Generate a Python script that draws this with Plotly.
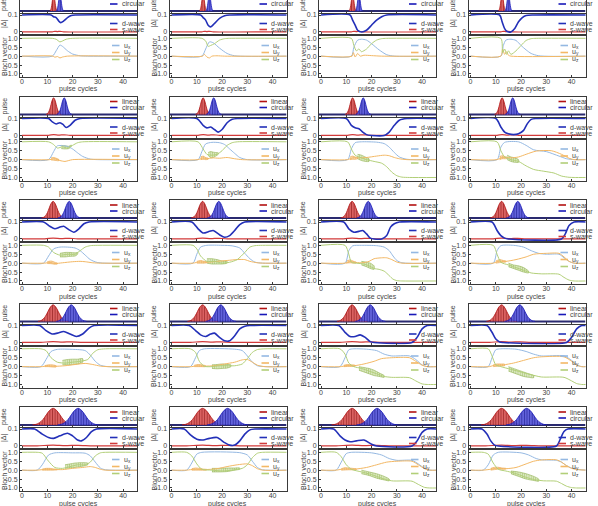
import plotly.graph_objects as go

W, H = 598, 506
COL_X = [0, 149.5, 299, 448.5]
ROW_T = [-7, 96.5, 200, 303.5, 407]
XR = [-0.8, 45.5]

# ---------------- pulse envelopes (per row) ----------------
ENV_Y = [0.01, 0.04, 0.14, 0.32, 0.61, 0.88, 1.0, 0.88, 0.61, 0.32, 0.14, 0.04, 0.01]
LIN_X = [
    [11.0, 11.25, 11.5, 11.75, 12.0, 12.25, 12.5, 12.75, 13.0, 13.25, 13.5, 13.75, 14.0],
    [9.5, 10.0, 10.5, 11.0, 11.5, 12.0, 12.5, 13.0, 13.5, 14.0, 14.5, 15.0, 15.5],
    [7.8, 8.55, 9.3, 10.05, 10.8, 11.55, 12.3, 13.05, 13.8, 14.55, 15.3, 16.05, 16.8],
    [6.3, 7.3, 8.3, 9.3, 10.3, 11.3, 12.3, 13.3, 14.3, 15.3, 16.3, 17.3, 18.3],
    [4.2, 5.55, 6.9, 8.25, 9.6, 10.95, 12.3, 13.65, 15.0, 16.35, 17.7, 19.05, 20.4],
]
CIRC_X = [
    [13.5, 13.75, 14.0, 14.25, 14.5, 14.75, 15.0, 15.25, 15.5, 15.75, 16.0, 16.25, 16.5],
    [13.7, 14.2, 14.7, 15.2, 15.7, 16.2, 16.7, 17.2, 17.7, 18.2, 18.7, 19.2, 19.7],
    [14.2, 14.95, 15.7, 16.45, 17.2, 17.95, 18.7, 19.45, 20.2, 20.95, 21.7, 22.45, 23.2],
    [13.5, 14.5, 15.5, 16.5, 17.5, 18.5, 19.5, 20.5, 21.5, 22.5, 23.5, 24.5, 25.5],
    [14.1, 15.45, 16.8, 18.15, 19.5, 20.85, 22.2, 23.55, 24.9, 26.25, 27.6, 28.95, 30.3],
]

# ---------------- |Delta| and Bloch curves, panel order: row by row ----------------
DWAVE = [
    [[0,.1],[11.5,.1],[12.5,.09],[13.5,.085],[14.5,.065],[15.3,.055],[16.5,.065],[18,.085],[19.5,.097],[21,.1],[46,.1]],
    [[0,.1],[11.5,.1],[12.5,.085],[13.5,.07],[14.5,.04],[15.5,.03],[17,.05],[19,.08],[21,.095],[23,.1],[46,.1]],
    [[0,.1],[11.5,.1],[12.5,.07],[13.5,.04],[14.5,.01],[16,0],[18,.01],[20,.04],[22,.07],[24,.09],[26,.1],[46,.1]],
    [[0,.1],[11.5,.1],[12.5,.06],[13.5,.02],[14.5,.003],[16,0],[17.5,.02],[19,.06],[20.5,.085],[22,.097],[25,.1],[46,.1]],
    [[0,.1],[10.5,.1],[12,.08],[13.5,.068],[15,.075],[16.2,.065],[17.5,.047],[19,.06],[21,.09],[23,.1],[46,.1]],
    [[0,.1],[10,.1],[12.5,.06],[14,.045],[15.5,.05],[17,.035],[18.5,.02],[20,.035],[22,.075],[24,.095],[26,.1],[46,.1]],
    [[0,.1],[10,.1],[12,.06],[13.5,.045],[15,.04],[16.5,.02],[18,.005],[20,0],[25,0],[27,.02],[29,.06],[31,.09],[34,.1],[46,.1]],
    [[0,.1],[10,.1],[12,.05],[13.5,.02],[15,.01],[17,.005],[19,.01],[21,.03],[22.5,.07],[24,.095],[26,.1],[46,.1]],
    [[0,.1],[8.5,.1],[11,.075],[13,.06],[15,.07],[16.5,.075],[18.5,.055],[20.5,.04],[22.5,.06],[24.5,.09],[26.5,.1],[46,.1]],
    [[0,.1],[8,.1],[10.5,.06],[12.5,.035],[15,.045],[16.5,.05],[19,.025],[21,.01],[23,.02],[25,.05],[27,.085],[29,.1],[46,.1]],
    [[0,.1],[9,.1],[11,.06],[13,.04],[15,.045],[16.5,.05],[18,.03],[19.5,.005],[21,0],[24,0],[26,.02],[27.5,.07],[29,.09],[31,.1],[46,.1]],
    [[0,.1],[8.5,.1],[10.5,.05],[12,.02],[13.5,.005],[15,0],[36,0],[37.5,.03],[39,.08],[41,.1],[46,.1]],
    [[0,.1],[7,.1],[9.5,.07],[12,.05],[14,.055],[16.5,.065],[19,.05],[21.5,.035],[24,.05],[26.5,.085],[28.5,.1],[46,.1]],
    [[0,.1],[7,.1],[9.5,.07],[11.5,.045],[13.5,.035],[15.5,.05],[17,.055],[19,.03],[21,.01],[23,.01],[25,.04],[27,.08],[29,.095],[31,.1],[46,.1]],
    [[0,.1],[7,.1],[9.5,.06],[11.5,.035],[13.5,.035],[15.5,.045],[17.5,.03],[19.5,.005],[21,0],[36,0],[38,.03],[40,.08],[42,.1],[46,.1]],
    [[0,.1],[6.5,.1],[8.5,.06],[10,.02],[11.5,.003],[13,0],[38,0],[40,.03],[42,.08],[44,.1],[46,.1]],
    [[0,.1],[5,.1],[8,.07],[10.5,.05],[12.5,.045],[15,.06],[18,.075],[20,.06],[22,.035],[23.5,.03],[25.5,.05],[27.5,.085],[29.5,.1],[46,.1]],
    [[0,.1],[5,.1],[7.5,.065],[10,.04],[12.5,.035],[15,.045],[18,.05],[21,.02],[23,.005],[25,.005],[27,.03],[29,.07],[31,.095],[33,.1],[46,.1]],
    [[0,.1],[5,.1],[7.5,.06],[9.5,.035],[11.5,.025],[14,.03],[17,.035],[20,.01],[22,0],[36,0],[38,.03],[40,.08],[42,.1],[46,.1]],
    [[0,.1],[4.5,.1],[6.5,.07],[8,.03],[9.5,.005],[11,0],[34,0],[35.5,.04],[37,.085],[38.5,.1],[46,.1]],
]
SWAVE_ROW = [
    [[0,.001],[12,.001],[13,.004],[14,.002],[15,.004],[16.5,.001],[46,.001]],
    [[0,.001],[10.5,.001],[12.5,.005],[14.5,.002],[16.7,.004],[19,.001],[46,.001]],
    [[0,.001],[9,.001],[12.3,.005],[15.5,.002],[18.7,.004],[22,.001],[46,.001]],
    [[0,.001],[7.5,.001],[12.3,.005],[16,.002],[19.5,.004],[24,.001],[46,.001]],
    [[0,.001],[6,.001],[12.3,.005],[17,.002],[22.2,.004],[28,.001],[46,.001]],
]
UX = [
    [[0,0],[12,0],[13.5,.3],[15,.62],[16,.55],[18,.3],[20,.12],[23,.02],[26,0],[46,0]],
    [[0,0],[12,0],[13.5,.4],[15,.8],[16.5,.75],[19,.45],[22,.15],[25,.02],[46,0]],
    [[0,0],[12,0],[13,.5],[14.5,.9],[16,.95],[18,.9],[20,.7],[23,.35],[26,.08],[29,0],[46,0]],
    [[0,0],[12,0],[13,.6],[14,.9],[16,.95],[18,.88],[20,.6],[22,.35],[24,.15],[27,.02],[46,0]],
    [[0,0],[10.5,0],[12.5,.45],[14,.78],[16,.78],[18,.74],[20,.6],[22,.38],[24,.18],[27,.03],[30,0],[46,0]],
    [[0,0],[10.5,0],[12,.45],[13.5,.88],[16,.97],[19,.95],[21,.85],[23,.6],[25,.35],[27,.12],[30,0],[46,0]],
    [[0,0],[10.5,0],[12,.6],[13.5,.95],[16,1],[22,.98],[25,.9],[27,.7],[29,.4],[31,.15],[34,.02],[46,0]],
    [[0,0],[10.5,0],[12,.7],[13.5,.97],[19,1],[22,.8],[25,.55],[30,.45],[35,.2],[38,.05],[41,0],[46,0]],
    [[0,0],[8.5,0],[10.5,.4],[12.5,.8],[15,.9],[18,.9],[21,.85],[23,.7],[25,.45],[27,.2],[30,.03],[46,0]],
    [[0,0],[8.5,0],[10,.5],[11.5,.9],[14,1],[20,1],[24,.97],[27,.85],[29,.55],[31,.25],[33,.06],[36,0],[46,0]],
    [[0,0],[9.5,0],[11,.7],[12.5,.97],[16,1],[22,.98],[25,.9],[27,.7],[28.5,.4],[30,.15],[32,.02],[46,0]],
    [[0,0],[9,0],[10.5,.7],[12,.98],[17,1],[21,.9],[24,.7],[27,.55],[30,.5],[35,.5],[37,.3],[39,.1],[41,0],[46,0]],
    [[0,0],[7.5,0],[9.5,.4],[11.5,.85],[14,.97],[20,.97],[25,.9],[27,.65],[29,.3],[31,.08],[34,0],[46,0]],
    [[0,0],[7.5,0],[9.5,.5],[11,.9],[13,1],[25,.98],[28,.9],[30,.6],[32,.25],[34,.05],[37,0],[46,0]],
    [[0,0],[7.5,0],[9.5,.5],[11,.95],[13,1],[18,.98],[22,.9],[25,.7],[28,.6],[35,.6],[37.5,.4],[40,.1],[42,0],[46,0]],
    [[0,0],[7,0],[8.5,.5],[10,.95],[12,1],[18,.98],[22,.85],[25,.7],[28,.6],[37,.6],[40,.35],[42,.1],[44,0],[46,0]],
    [[0,0],[6,0],[8,.3],[10.5,.85],[13,.97],[20,.97],[25,.95],[27,.8],[29,.45],[31,.12],[33,.02],[46,0]],
    [[0,0],[6,0],[8,.4],[10,.9],[12,1],[27,.98],[30,.85],[32,.5],[34,.15],[36,.02],[46,0]],
    [[0,0],[6,0],[8,.45],[10,.93],[12,1],[20,.97],[24,.85],[27,.65],[30,.55],[36,.55],[38.5,.35],[41,.1],[43,0],[46,0]],
    [[0,0],[5,0],[7,.3],[9,.85],[11,1],[20,.97],[23,.85],[26,.65],[28,.58],[34,.55],[36,.45],[38,.25],[40,.12],[43,.03],[46,0]],
]
UY = [
    [[0,0],[12.3,0],[13,-.06],[14,-.02],[15,-.1],[16,-.05],[18,0],[46,0]],
    [[0,0],[12.3,0],[13,.1],[14,-.05],[15,-.1],[16,0],[18,.02],[21,0],[46,0]],
    [[0,0],[12.3,0],[12.8,.2],[13.5,-.05],[14.5,.15],[15.5,0],[17,.05],[20,.03],[24,0],[46,0]],
    [[0,0],[12,0],[12.7,.4],[13.5,.1],[14.3,.25],[15,.05],[16,0],[46,0]],
    [[0,0],[11,0],[12.5,.05],[13.5,.03],[15,-.05],[17,-.1],[18.5,-.05],[20,0],[46,0]],
    [[0,0],[10.5,0],[12.5,.1],[14,.05],[16,.1],[19,.08],[22,.12],[25,.05],[28,0],[46,0]],
    [[0,0],[10.5,0],[12.5,.1],[15,.1],[18,.12],[22,.2],[25,.25],[27,.22],[29,.12],[31,.05],[34,0],[46,0]],
    [[0,0],[10.5,0],[12.5,.12],[16,.1],[19,.15],[22,.3],[26,.48],[32,.5],[36,.3],[39,.08],[41,0],[46,0]],
    [[0,0],[9,0],[11,.04],[13,-.02],[16,.02],[20,.08],[23,.1],[25,.08],[28,.02],[31,0],[46,0]],
    [[0,0],[8.5,0],[11,.07],[14,.05],[18,.1],[22,.15],[26,.2],[29,.2],[31,.1],[34,.02],[36,0],[46,0]],
    [[0,0],[9.5,0],[11.5,.09],[13,.05],[16,.02],[19,.1],[21,.25],[24,.3],[26,.3],[28,.2],[30,.06],[32,0],[46,0]],
    [[0,0],[9,0],[11,.1],[14,.1],[18,.2],[22,.35],[25,.5],[30,.55],[35,.55],[37,.35],[39,.1],[41,0],[46,0]],
    [[0,0],[8,0],[10,.04],[13,.02],[17,.05],[21,.12],[25,.18],[28,.12],[31,.03],[34,0],[46,0]],
    [[0,0],[8,0],[10,.05],[13,.03],[17,.05],[21,.15],[25,.25],[28,.38],[30,.4],[32,.25],[34,.08],[37,0],[46,0]],
    [[0,0],[8,0],[10,.06],[13,.05],[17,.15],[21,.3],[24,.45],[28,.5],[35,.5],[37.5,.3],[40,.08],[42,0],[46,0]],
    [[0,0],[7.5,0],[9.5,.08],[13,.1],[17,.2],[21,.35],[25,.5],[28,.55],[37,.55],[40,.3],[42,.08],[44,0],[46,0]],
    [[0,0],[6,0],[9,.04],[12,.04],[16,.03],[20,.1],[24,.15],[27,.2],[29,.15],[31,.05],[33,0],[46,0]],
    [[0,0],[6,0],[9,.05],[13,.03],[18,.08],[22,.2],[26,.3],[30,.35],[32,.25],[34,.08],[36,0],[46,0]],
    [[0,0],[6,0],[9,.07],[13,.05],[18,.15],[22,.3],[26,.45],[30,.5],[36,.5],[38.5,.3],[41,.08],[43,0],[46,0]],
    [[0,0],[5,0],[8,.05],[10,.1],[14,.08],[18,.15],[22,.35],[25,.5],[28,.57],[34,.58],[36,.45],[38,.25],[40,.1],[43,.02],[46,0]],
]
UZ = [
    [[0,1],[12,1],[13.5,.95],[15,.8],[16,.85],[17.5,.95],[20,1],[46,1]],
    [[0,1],[12,1],[13.5,.85],[14.5,.55],[15.5,.6],[17,.7],[19,.9],[21,.98],[23,1],[46,1]],
    [[0,1],[12,1],[13,.6],[14,.3],[15,.4],[16,.25],[18,.4],[20,.7],[22,.9],[24,.98],[26,1],[46,1]],
    [[0,1],[12,1],[12.7,.2],[13.5,.4],[14.3,.1],[15,.3],[16,.1],[18,.3],[20,.6],[22,.88],[24,.98],[26,1],[46,1]],
    [[0,1],[10.5,1],[12.5,.85],[14,.65],[16,.72],[18,.65],[20,.8],[22,.95],[24,1],[46,1]],
    [[0,1],[10.5,1],[12.5,.6],[14,.3],[16,.25],[18,.3],[20,.5],[22,.8],[24,.95],[26,1],[46,1]],
    [[0,1],[10.5,1],[12,.6],[13.5,.25],[16,.1],[18,0],[21,-.1],[24,-.2],[26,-.4],[28,-.7],[30,-.9],[32,-.98],[35,-1],[46,-1]],
    [[0,1],[10.5,1],[12,.5],[13.5,.15],[16,0],[19,-.1],[22,-.35],[25,-.55],[29,-.65],[33,-.75],[36,-.92],[39,-.99],[41,-1],[46,-1]],
    [[0,1],[8.5,1],[10.5,.9],[12.5,.6],[15,.45],[18,.5],[21,.5],[23,.7],[25,.9],[27,.98],[30,1],[46,1]],
    [[0,1],[8.5,1],[10,.8],[11.5,.4],[14,.1],[17,.1],[20,0],[23,.05],[26,.2],[29,.6],[31,.9],[33,.98],[36,1],[46,1]],
    [[0,1],[9.5,1],[11,.5],[12,.05],[14,0],[17,-.05],[19,-.15],[21,-.3],[23,-.35],[25,-.45],[27,-.7],[28.5,-.9],[30,-.98],[32,-1],[46,-1]],
    [[0,1],[9,1],[10.5,.5],[12,.05],[15,-.1],[18,-.25],[21,-.4],[24,-.55],[28,-.6],[35,-.62],[37,-.8],[39,-.95],[41,-1],[46,-1]],
    [[0,1],[7.5,1],[9.5,.9],[11.5,.5],[14,.25],[17,.2],[20,.25],[23,.3],[26,.4],[28,.75],[30,.95],[33,1],[46,1]],
    [[0,1],[7.5,1],[9.5,.8],[11,.3],[13,.02],[16,0],[19,.05],[22,.05],[25,.05],[28,.15],[30,.45],[32,.8],[34,.96],[37,1],[46,1]],
    [[0,1],[7.5,1],[9.5,.7],[11,.2],[13,0],[16,-.1],[19,-.25],[22,-.4],[25,-.55],[28,-.6],[35,-.62],[37.5,-.8],[40,-.97],[42,-1],[46,-1]],
    [[0,1],[7,1],[8.5,.6],[10,.1],[12,0],[16,-.15],[20,-.3],[24,-.45],[28,-.58],[37,-.6],[40,-.8],[42,-.95],[44,-1],[46,-1]],
    [[0,1],[6,1],[8,.95],[10.5,.5],[13,.15],[16,.1],[19,.2],[22,.3],[25,.3],[27,.45],[29,.8],[31,.97],[33,1],[46,1]],
    [[0,1],[6,1],[8,.8],[10,.35],[12,.05],[16,0],[20,-.05],[24,0],[28,.1],[30,.3],[32,.7],[34,.95],[36,1],[46,1]],
    [[0,1],[6,1],[8,.75],[10,.3],[12,.05],[16,-.1],[20,-.25],[24,-.45],[28,-.6],[36,-.62],[38.5,-.8],[41,-.97],[43,-1],[46,-1]],
    [[0,1],[5,1],[7,.9],[9,.4],[11,.05],[14,-.05],[17,-.15],[20,-.3],[23,-.45],[26,-.55],[29,-.6],[34,-.62],[36,-.75],[38,-.9],[40,-.98],[42,-1],[46,-1]],
]
# fast-oscillation bands: [x, lower, upper]
UZ_BAND = [
    [], [], [], [],
    [[15.5,.62,.8],[17,.6,.78],[18.5,.62,.75],[19.5,.75,.82]],
    [[14.5,.25,.4],[15.5,.1,.45],[16.5,.12,.42],[17.5,.2,.4],[18.5,.3,.38]],
    [[14.5,.05,.3],[16,-.05,.25],[17.5,-.1,.15],[19,-.1,.05]],
    [[14.5,0,.25],[16,-.1,.15],[17.5,-.15,.1],[19,-.15,0]],
    [[15,.35,.55],[17,.35,.6],[19,.38,.6],[21,.4,.58],[22,.5,.6]],
    [[14,0,.25],[16,-.05,.25],[18,-.05,.2],[20,-.05,.12],[22,0,.1]],
    [[16,-.1,.1],[18,-.2,.05],[19.5,-.3,0],[21,-.35,-.15]],
    [[15,-.2,0],[17,-.3,-.1],[19,-.4,-.15],[21,-.5,-.25],[23,-.55,-.45]],
    [[16,.1,.35],[18,.1,.4],[20,.12,.42],[22,.15,.42],[24,.25,.45]],
    [[16,-.1,.1],[18,-.12,.12],[20,-.1,.15],[22,-.08,.12],[23.5,0,.1]],
    [[15,-.2,0],[17,-.3,-.05],[19,-.4,-.1],[21,-.5,-.2],[23,-.55,-.35],[25,-.6,-.5]],
    [[15,-.25,0],[17,-.35,-.1],[19,-.45,-.2],[21,-.55,-.3],[23,-.6,-.4],[25,-.62,-.5]],
    [[17,.1,.3],[19,.12,.35],[21,.15,.4],[23,.2,.42],[25,.25,.42],[26,.3,.4]],
    [[16,-.1,.1],[19,-.1,.1],[22,-.08,.12],[25,0,.12],[27,.05,.12]],
    [[16,-.2,0],[19,-.3,-.1],[22,-.45,-.2],[25,-.55,-.35],[27,-.6,-.5]],
    [[16,-.2,-.05],[19,-.35,-.1],[22,-.5,-.2],[25,-.58,-.35],[27,-.62,-.5]],
]
UY_BAND = [
    [], [], [], [],
    [[11.5,-.02,.1],[12.5,-.03,.12],[13.5,-.05,.08],[14.5,-.06,.02]],
    [[11.5,0,.15],[12.5,.02,.2],[13.5,0,.12],[14.5,.02,.08]],
    [[11.5,0,.15],[12.5,.02,.2],[13.5,.02,.15],[14.5,.05,.12]],
    [[11.5,0,.18],[12.5,.05,.22],[13.5,.05,.18],[14.5,.06,.14]],
    [[10,-.02,.08],[11.5,-.03,.12],[13,-.06,.05],[14,-.05,0]],
    [[10,0,.1],[11.5,0,.15],[13,0,.1],[14,.02,.07]],
    [[10,0,.12],[11.5,.02,.18],[13,0,.1],[14,.01,.05]],
    [[10,0,.12],[11.5,.03,.2],[13,.05,.15],[14,.06,.12]],
    [[9,0,.06],[10.5,0,.1],[12,-.02,.1],[13.5,-.02,.05]],
    [[9,0,.08],[10.5,0,.12],[12,0,.1],[13.5,0,.05]],
    [[9,0,.08],[10.5,.01,.12],[12,.01,.1],[13.5,.02,.08]],
    [[9,0,.1],[10.5,.02,.15],[12,.04,.15],[13.5,.05,.14]],
    [[8,0,.06],[9.5,0,.1],[11,0,.1],[12.5,0,.07],[14,.02,.05]],
    [[8,0,.08],[9.5,0,.12],[11,0,.1],[12.5,0,.06],[14,.01,.04]],
    [[8,0,.08],[9.5,.01,.14],[11,.02,.12],[12.5,.02,.1],[14,.03,.07]],
    [[8,0,.1],[9.5,.03,.16],[11,.05,.16],[12.5,.05,.12],[14,.06,.1]],
]

X_TICKS = [0, 10, 20, 30, 40]
BLOCH_TICKS = [-1, -0.5, 0, 0.5, 1]
BLOCH_TICKTEXT = ["-1.0", "-0.5", "0.0", "0.5", "1.0"]
DELTA_TICKS = [0, 0.1]
DELTA_TICKTEXT = ["0", "0.1"]

C_LIN, C_CIRC = "#b31212", "#1818b8"
C_D, C_S = "#2330b8", "#d23a3a"
C_UX, C_UY, C_UZ = "#94b8e2", "#f3b865", "#b2cf78"
FRAME = "#3a3a3a"
FONT = "Liberation Sans, Arial, sans-serif"
TXT = "#444444"


def xp(px):
    return px / W


def yp(py):
    return 1 - py / H


def unzip(pairs):
    return [p[0] for p in pairs], [p[1] for p in pairs]


fig = go.Figure()
layout = {}
shapes = []
annots = []
n = 0


def add_axes(x0, top, bot, yr, kind):
    global n
    n += 1
    lo, hi = yr
    if top < 0:
        hi = lo + (hi - lo) * bot / (bot - top)
        top = 0
    xk = "xaxis" if n == 1 else f"xaxis{n}"
    yk = "yaxis" if n == 1 else f"yaxis{n}"
    xa = "x" if n == 1 else f"x{n}"
    ya = "y" if n == 1 else f"y{n}"
    layout[xk] = dict(domain=[xp(x0 + 20), xp(x0 + 137)], range=XR, anchor=ya,
                      showgrid=False, zeroline=False, showline=True, mirror=True,
                      linecolor=FRAME, linewidth=1, ticks="inside", ticklen=2,
                      tickcolor=FRAME, tickvals=X_TICKS,
                      showticklabels=(kind == "bloch"), ticklabelstandoff=-2,
                      tickfont=dict(size=7, color=TXT, family=FONT), automargin=False)
    ya_d = dict(domain=[yp(bot), yp(top)], range=[lo, hi], anchor=xa,
                showgrid=False, zeroline=False, showline=True, mirror=True,
                linecolor=FRAME, linewidth=1, ticks="inside", ticklen=2,
                tickcolor=FRAME, tickfont=dict(size=7, color=TXT, family=FONT),
                automargin=False)
    if kind == "pulse":
        ya_d.update(tickvals=[], showticklabels=False)
    elif kind == "delta":
        ya_d.update(tickvals=DELTA_TICKS, ticktext=DELTA_TICKTEXT)
    else:
        ya_d.update(tickvals=BLOCH_TICKS, ticktext=BLOCH_TICKTEXT)
    layout[yk] = ya_d
    return xa, ya


def legend_item(x0, y, color, text, lx0=110, lx1=117.5, tx=119.5):
    if y < 1:
        return
    shapes.append(dict(type="line", xref="paper", yref="paper",
                       x0=xp(x0 + lx0), x1=xp(x0 + lx1), y0=yp(y), y1=yp(y),
                       line=dict(color=color, width=1.6)))
    annots.append(dict(x=xp(x0 + tx), y=yp(y), xref="paper", yref="paper",
                       text=text, showarrow=False, xanchor="left", yanchor="middle",
                       font=dict(size=7, color=TXT, family=FONT)))


def label(x, y, text, angle=0):
    annots.append(dict(x=xp(x), y=yp(y), xref="paper", yref="paper", text=text,
                       showarrow=False, xanchor="center", yanchor="middle",
                       textangle=angle, font=dict(size=7, color=TXT, family=FONT)))


def band(trip, xa, ya, fill, fg):
    if not trip:
        return
    bx = [t[0] for t in trip] + [t[0] for t in reversed(trip)]
    by = [t[2] for t in trip] + [t[1] for t in reversed(trip)]
    fig.add_trace(go.Scatter(x=bx, y=by, mode="lines", xaxis=xa, yaxis=ya,
                             line=dict(color=fg, width=0.6, shape="spline", smoothing=0.6),
                             fill="toself", fillcolor=fill,
                             fillpattern=dict(shape="|", size=2.2, solidity=0.45,
                                              fgcolor=fg, bgcolor=fill),
                             hoverinfo="skip"))


for r in range(5):
    for c in range(4):
        p = r * 4 + c
        X0 = COL_X[c]
        T = ROW_T[r]

        # pulse panel
        xa, ya = add_axes(X0, T, T + 20, [-0.12, 1.08], "pulse")
        fig.add_trace(go.Scatter(x=XR, y=[0, 0], mode="lines", xaxis=xa, yaxis=ya,
                                 line=dict(color="#2a2a70", width=1.8), hoverinfo="skip"))
        fig.add_trace(go.Scatter(x=LIN_X[r], y=ENV_Y, mode="lines", xaxis=xa, yaxis=ya,
                                 line=dict(color=C_LIN, width=0.8, shape="spline"),
                                 fill="tozeroy", fillcolor="rgba(214,70,70,0.9)",
                                 fillpattern=dict(shape="|", size=2.6, solidity=0.45,
                                                  fgcolor="#6e0000", bgcolor="rgba(225,90,90,0.9)"),
                                 hoverinfo="skip"))
        fig.add_trace(go.Scatter(x=CIRC_X[r], y=ENV_Y, mode="lines", xaxis=xa, yaxis=ya,
                                 line=dict(color=C_CIRC, width=0.8, shape="spline"),
                                 fill="tozeroy", fillcolor="rgba(70,70,214,0.9)",
                                 fillpattern=dict(shape="|", size=2.6, solidity=0.45,
                                                  fgcolor="#00006e", bgcolor="rgba(90,90,225,0.9)"),
                                 hoverinfo="skip"))

        # delta panel
        xa, ya = add_axes(X0, T + 21, T + 41, [-0.012, 0.106], "delta")
        sx, sy = unzip(SWAVE_ROW[r])
        fig.add_trace(go.Scatter(x=sx, y=sy, mode="lines", xaxis=xa, yaxis=ya,
                                 line=dict(color=C_S, width=1.2, shape="spline", smoothing=0.6),
                                 hoverinfo="skip"))
        dx, dy = unzip(DWAVE[p])
        fig.add_trace(go.Scatter(x=dx, y=dy, mode="lines", xaxis=xa, yaxis=ya,
                                 line=dict(color=C_D, width=1.6, shape="spline", smoothing=0.7),
                                 hoverinfo="skip"))

        # bloch panel
        xa, ya = add_axes(X0, T + 43, T + 84, [-1.17, 1.13], "bloch")
        band(UY_BAND[p], xa, ya, "rgba(243,184,101,0.35)", "#e8a040")
        band(UZ_BAND[p], xa, ya, "rgba(178,207,120,0.4)", "#8fb04e")
        for data, col in ((UX, C_UX), (UY, C_UY), (UZ, C_UZ)):
            bx, by = unzip(data[p])
            fig.add_trace(go.Scatter(x=bx, y=by, mode="lines", xaxis=xa, yaxis=ya,
                                     line=dict(color=col, width=1.0, shape="spline", smoothing=0.7),
                                     hoverinfo="skip"))

        # labels
        label(X0 + 4, T + 10, "pulse", -90)
        label(X0 + 4, T + 31, "|Δ|", -90)
        label(X0 + 4, T + 64, "Bloch vector", -90)
        label(X0 + 78, T + 96.5, "pulse cycles")

        # legends
        legend_item(X0, T + 5, C_LIN, "linear")
        legend_item(X0, T + 11, C_CIRC, "circular")
        legend_item(X0, T + 30.5, C_D, "d-wave")
        legend_item(X0, T + 36.5, C_S, "s-wave")
        legend_item(X0, T + 52.5, C_UX, "u<sub>x</sub>", 112, 119.5, 121.5)
        legend_item(X0, T + 59.5, C_UY, "u<sub>y</sub>", 112, 119.5, 121.5)
        legend_item(X0, T + 66.5, C_UZ, "u<sub>z</sub>", 112, 119.5, 121.5)

fig.update_layout(width=W, height=H, margin=dict(l=0, r=0, t=0, b=0),
                  paper_bgcolor="white", plot_bgcolor="white", showlegend=False,
                  shapes=shapes, annotations=annots, **layout)
fig.write_html("out.html", config={"displayModeBar": False},
               post_script="document.body.style.margin='0px';document.body.style.overflow='hidden';")
